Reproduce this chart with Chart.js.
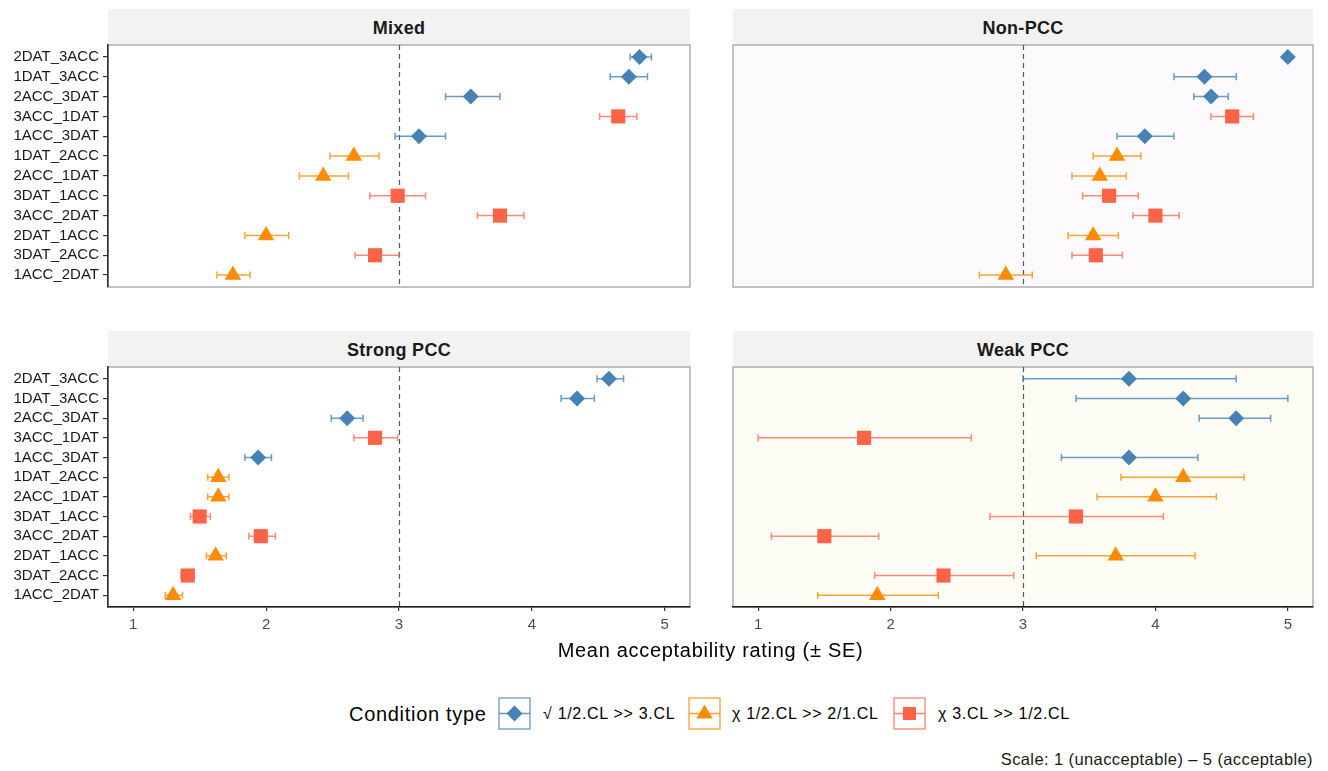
<!DOCTYPE html>
<html lang="en">
<head>
<meta charset="UTF-8">
<title>Mean acceptability rating</title>
<script src="https://cdn.jsdelivr.net/npm/chart.js"></script>
<style>
    body {
        margin: 0;
        background: #fff;
        font-family: "Liberation Sans", Arial, sans-serif;
    }
    #wrap {
        position: relative;
        width: 1328px;
        height: 771px;
        overflow: hidden;
    }
    .strip {
        position: absolute;
        background: #f2f2f2;
        font-weight: bold;
        font-size: 18px;
        letter-spacing: 0.3px;
        color: #1a1a1a;
        text-align: center;
        height: 36px;
        line-height: 38px;
    }
    canvas.panel { position: absolute; }
    .txt { position: absolute; white-space: nowrap; color: #000; }
    .key { position: absolute; }
</style>
</head>
<body>
<div id="wrap">
    <div class="strip" style="left:108px; top:9px; width:582px;">Mixed</div>
    <div class="strip" style="left:733px; top:9px; width:580px;">Non-PCC</div>
    <div class="strip" style="left:108px; top:331px; width:582px;">Strong PCC</div>
    <div class="strip" style="left:733px; top:331px; width:580px;">Weak PCC</div>

    <canvas class="panel" id="mixed" style="left:0; top:44px;" width="692" height="245"></canvas>
    <canvas class="panel" id="nonpcc" style="left:731px; top:44px;" width="584" height="245"></canvas>
    <canvas class="panel" id="strong" style="left:0; top:366px;" width="692" height="280"></canvas>
    <canvas class="panel" id="weak" style="left:731px; top:366px;" width="584" height="280"></canvas>

    <div class="txt" style="left:0; width:1421px; top:639px; text-align:center; font-size:20px; letter-spacing:0.7px;">Mean acceptability rating (± SE)</div>

    <div class="txt" style="left:349px; top:703px; font-size:20px; letter-spacing:0.7px;">Condition type</div>
    <svg class="key" style="left:498px; top:697px;" width="33" height="33">
        <rect x="1" y="1" width="31" height="31" fill="#fff" stroke="#7fa6c9" stroke-width="1.5"/>
        <line x1="1" y1="16.5" x2="32" y2="16.5" stroke="#6a97c0" stroke-width="1.5"/>
        <polygon points="8.5,16.5 16.5,8.5 24.5,16.5 16.5,24.5" fill="#4682B4"/>
    </svg>
    <div class="txt" style="left:543px; top:705px; font-size:16px; letter-spacing:0.7px;">√ 1/2.CL &gt;&gt; 3.CL</div>
    <svg class="key" style="left:688px; top:697px;" width="33" height="33">
        <rect x="1" y="1" width="31" height="31" fill="#fff" stroke="#ffaa4d" stroke-width="1.5"/>
        <line x1="1" y1="16.5" x2="32" y2="16.5" stroke="#ff9d2e" stroke-width="1.5"/>
        <polygon points="8.3,21.5 16.5,7.5 24.7,21.5" fill="#FF8C00"/>
    </svg>
    <div class="txt" style="left:732px; top:705px; font-size:16px; letter-spacing:0.7px;">χ 1/2.CL &gt;&gt; 2/1.CL</div>
    <svg class="key" style="left:893px; top:697px;" width="33" height="33">
        <rect x="1" y="1" width="31" height="31" fill="#fff" stroke="#ff9580" stroke-width="1.5"/>
        <line x1="1" y1="16.5" x2="32" y2="16.5" stroke="#ff8470" stroke-width="1.5"/>
        <rect x="10" y="10" width="13" height="13" fill="#FF6347"/>
    </svg>
    <div class="txt" style="left:938px; top:705px; font-size:16px; letter-spacing:0.7px;">χ 3.CL &gt;&gt; 1/2.CL</div>

    <div class="txt" style="right:15px; top:750px; font-size:16.5px; letter-spacing:0.4px; color:#1a1a1a;">Scale: 1 (unacceptable) – 5 (acceptable)</div>
</div>

<script>
    // Conditions, top to bottom
    const categories = ['2DAT_3ACC', '1DAT_3ACC', '2ACC_3DAT', '3ACC_1DAT', '1ACC_3DAT', '1DAT_2ACC',
                        '2ACC_1DAT', '3DAT_1ACC', '3ACC_2DAT', '2DAT_1ACC', '3DAT_2ACC', '1ACC_2DAT'];
    const condType = ['ok', 'ok', 'ok', 'cl3', 'ok', 'cl21', 'cl21', 'cl3', 'cl3', 'cl21', 'cl3', 'cl21'];
    const xTicks = [1, 2, 3, 4, 5];

    // Mixed
    const mixedMean = [4.81, 4.73, 3.54, 4.65, 3.15, 2.66, 2.43, 2.99, 3.76, 2.00, 2.82, 1.75];
    const mixedLo   = [4.74, 4.59, 3.35, 4.51, 2.97, 2.48, 2.25, 2.78, 3.59, 1.84, 2.67, 1.63];
    const mixedHi   = [4.90, 4.87, 3.76, 4.79, 3.35, 2.85, 2.62, 3.20, 3.94, 2.17, 3.00, 1.88];

    // Non-PCC
    const nonMean = [5.00, 4.37, 4.42, 4.58, 3.92, 3.71, 3.58, 3.65, 4.00, 3.53, 3.55, 2.87];
    const nonLo   = [5.00, 4.14, 4.29, 4.42, 3.71, 3.53, 3.37, 3.45, 3.83, 3.34, 3.37, 2.67];
    const nonHi   = [5.00, 4.61, 4.55, 4.74, 4.14, 3.89, 3.78, 3.87, 4.18, 3.72, 3.75, 3.07];

    // Strong PCC
    const strongMean = [4.58, 4.34, 2.61, 2.82, 1.94, 1.64, 1.64, 1.50, 1.96, 1.62, 1.41, 1.30];
    const strongLo   = [4.49, 4.22, 2.49, 2.66, 1.84, 1.56, 1.56, 1.43, 1.87, 1.55, 1.36, 1.24];
    const strongHi   = [4.69, 4.47, 2.73, 2.99, 2.04, 1.72, 1.72, 1.58, 2.07, 1.70, 1.46, 1.37];

    // Weak PCC
    const weakMean = [3.80, 4.21, 4.61, 1.80, 3.80, 4.21, 4.00, 3.40, 1.50, 3.70, 2.40, 1.90];
    const weakLo   = [3.00, 3.40, 4.33, 1.00, 3.29, 3.74, 3.56, 2.75, 1.10, 3.10, 1.88, 1.45];
    const weakHi   = [4.61, 5.00, 4.87, 2.61, 4.32, 4.67, 4.46, 4.06, 1.91, 4.30, 2.93, 2.36];

    const types = [
        { key: 'ok',   label: '√ 1/2.CL >> 3.CL',   color: '#4682B4', bar: 'rgba(70,130,180,0.8)', style: 'rectRot',  r: 8 },
        { key: 'cl21', label: 'χ 1/2.CL >> 2/1.CL', color: '#FF8C00', bar: 'rgba(255,140,0,0.8)',  style: 'triangle', r: 9.5 },
        { key: 'cl3',  label: 'χ 3.CL >> 1/2.CL',   color: '#FF6347', bar: 'rgba(255,99,71,0.75)', style: 'rect',     r: 10 }
    ];

    // background, border, reference line at 3 and error bars
    const panelDeco = {
        id: 'panelDeco',
        beforeDraw(chart, args, opts) {
            const { ctx, chartArea: a } = chart;
            ctx.save();
            ctx.fillStyle = opts.bg;
            ctx.fillRect(a.left, a.top, a.width, a.height);
            ctx.strokeStyle = '#b3b3b3';
            ctx.lineWidth = 1.6;
            ctx.strokeRect(a.left, a.top, a.width, a.height);
            ctx.restore();
        },
        beforeDatasetsDraw(chart) {
            const { ctx, chartArea: a, scales: { x, y } } = chart;
            ctx.save();
            const xr = Math.round(x.getPixelForValue(3)) + 0.5;
            ctx.strokeStyle = '#555';
            ctx.lineWidth = 1.2;
            ctx.setLineDash([5, 4]);
            ctx.beginPath();
            ctx.moveTo(xr, a.top);
            ctx.lineTo(xr, a.bottom);
            ctx.stroke();
            ctx.setLineDash([]);
            ctx.lineWidth = 1.5;
            chart.data.datasets.forEach(ds => {
                ctx.strokeStyle = ds.barColor;
                ds.data.forEach(p => {
                    const py = y.getPixelForValue(p.y);
                    const x0 = x.getPixelForValue(p.lo);
                    const x1 = x.getPixelForValue(p.hi);
                    ctx.beginPath();
                    ctx.moveTo(x0, py); ctx.lineTo(x1, py);
                    ctx.moveTo(x0, py - 3.5); ctx.lineTo(x0, py + 3.5);
                    ctx.moveTo(x1, py - 3.5); ctx.lineTo(x1, py + 3.5);
                    ctx.stroke();
                });
            });
            ctx.restore();
        }
    };

    function makePanel(id, mean, lo, hi, opt) {
        const datasets = types.map(t => ({
            label: t.label,
            data: categories.map((c, i) => ({ x: mean[i], y: i, lo: lo[i], hi: hi[i], t: condType[i] }))
                            .filter(p => p.t === t.key),
            pointStyle: t.style,
            pointRadius: t.r,
            backgroundColor: t.color,
            borderWidth: 0,
            barColor: t.bar
        }));

        new Chart(document.getElementById(id), {
            type: 'scatter',
            data: { datasets },
            plugins: [panelDeco],
            options: {
                responsive: false,
                animation: false,
                layout: { padding: opt.padding, autoPadding: false },
                plugins: {
                    legend: { display: false },
                    tooltip: { enabled: false },
                    panelDeco: { bg: opt.bg }
                },
                scales: {
                    x: {
                        type: 'linear',
                        min: 0.81,
                        max: 5.19,
                        display: opt.showX,
                        afterBuildTicks: s => { s.ticks = xTicks.map(v => ({ value: v })); },
                        afterFit: s => {
                            if (opt.showX) s.height = 39;
                            s.paddingLeft = 0; s.paddingRight = 0;
                        },
                        grid: { drawOnChartArea: false, drawTicks: true, tickLength: 4, color: '#333', lineWidth: 1.2 },
                        border: { display: true, color: '#1a1a1a', width: 1.6 },
                        ticks: { color: '#4d4d4d', font: { family: 'Liberation Sans', size: 15 }, padding: 5, maxRotation: 0 }
                    },
                    y: {
                        type: 'linear',
                        reverse: true,
                        min: -0.6,
                        max: 11.6,
                        display: opt.showY,
                        afterBuildTicks: s => { s.ticks = categories.map((c, i) => ({ value: i })); },
                        afterFit: s => {
                            if (opt.showY) s.width = 108;
                            s.paddingTop = 0; s.paddingBottom = 0;
                        },
                        grid: { drawOnChartArea: false, drawTicks: true, tickLength: 5, color: '#333', lineWidth: 1.2 },
                        border: { display: true, color: '#333', width: 1.6 },
                        ticks: {
                            autoSkip: false,
                            color: '#1a1a1a',
                            font: { family: 'Liberation Sans', size: 15 },
                            padding: 4,
                            callback: v => categories[Math.round(v)]
                        }
                    }
                }
            }
        });
    }

    makePanel('mixed', mixedMean, mixedLo, mixedHi,
        { showX: false, showY: true, bg: '#ffffff', padding: { top: 1, right: 2, bottom: 2, left: 0 } });
    makePanel('nonpcc', nonMean, nonLo, nonHi,
        { showX: false, showY: false, bg: '#fdfafd', padding: { top: 1, right: 2, bottom: 2, left: 2 } });
    makePanel('strong', strongMean, strongLo, strongHi,
        { showX: true, showY: true, bg: '#ffffff', padding: { top: 1, right: 2, bottom: 0, left: 0 } });
    makePanel('weak', weakMean, weakLo, weakHi,
        { showX: true, showY: false, bg: '#fefdf5', padding: { top: 1, right: 2, bottom: 0, left: 2 } });
</script>
</body>
</html>
